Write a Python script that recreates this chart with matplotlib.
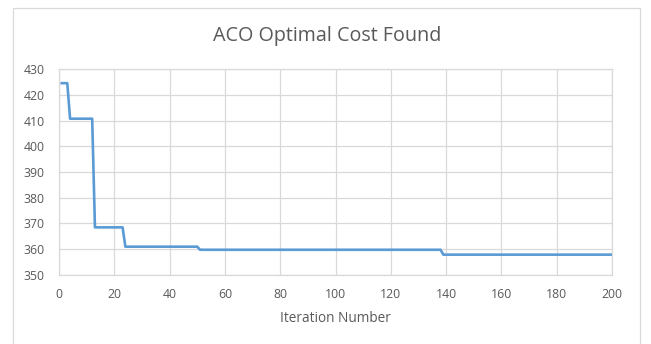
import matplotlib
matplotlib.use("Agg")
import matplotlib.pyplot as plt
from matplotlib.patches import Rectangle

# Step levels: (last iteration of level, cost)
level_end_iters = [3, 12, 23, 50, 138, 200]
level_costs = [424.5, 410.7, 368.5, 361.0, 359.8, 357.9]

iters = list(range(1, 201))
costs = []
start = 1
for end, c in zip(level_end_iters, level_costs):
    costs += [c] * (end - start + 1)
    start = end + 1

x_ticks = list(range(0, 201, 20))
y_ticks = list(range(350, 431, 10))

plt.rcParams['font.family'] = ['Open Sans', 'DejaVu Sans']
W, H = 651, 344
fig = plt.figure(figsize=(W / 100, H / 100), dpi=100)
ax = fig.add_axes([59 / W, 1 - 275 / H, (612 - 59) / W, (275 - 69) / H])

ax.plot(iters, costs, color='#5b9bd5', lw=1.9, solid_joinstyle='round')
ax.set_xlim(0, 200)
ax.set_ylim(350, 430)
ax.set_xticks(x_ticks)
ax.set_yticks(y_ticks)
ax.grid(True, color='#d9d9d9', lw=0.9)
ax.set_axisbelow(True)
for s in ax.spines.values():
    s.set_color('#d9d9d9')
    s.set_linewidth(0.9)
ax.tick_params(length=0, labelsize=8.8, labelcolor='#595959')
ax.tick_params(axis='y', pad=10.5)
ax.tick_params(axis='x', pad=9)

fig.text(335.5 / W, 1 - 318 / H, 'Iteration Number', ha='center', va='center',
         fontsize=9.8, color='#595959')
fig.text(327 / W, 1 - 36 / H, 'ACO Optimal Cost Found', ha='center', va='center',
         fontsize=14.2, color='#595959')

fig.patches.append(Rectangle((12.5 / W, -0.05), (640 - 12.5) / W, 1 - 7.5 / H + 0.05,
                             transform=fig.transFigure, fill=False,
                             edgecolor='#d9d9d9', lw=0.9))

fig.savefig('out.png', dpi=100)
